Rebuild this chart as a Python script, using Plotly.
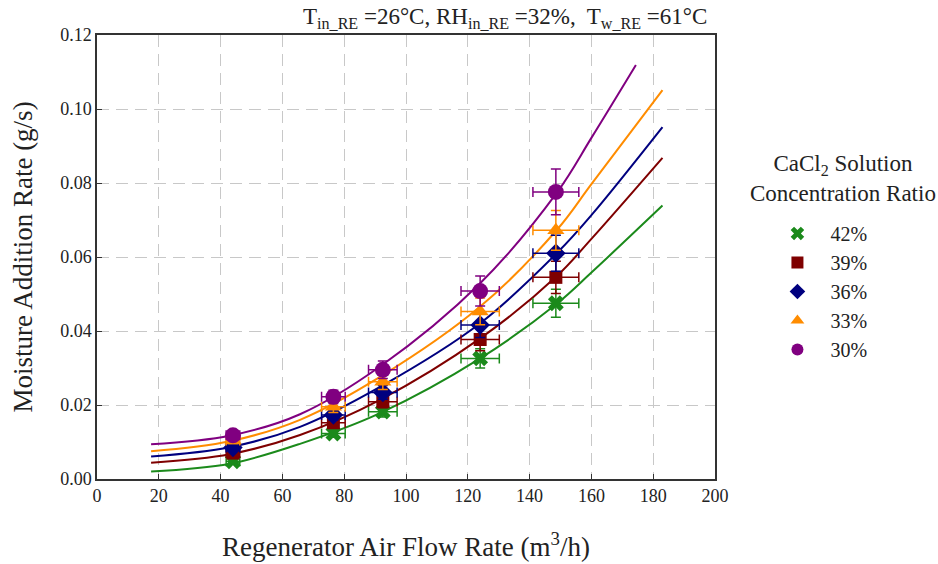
import plotly.graph_objects as go

# ---- data ----
flow_rates = [44, 76.5, 92.5, 124, 148.5]
series_names = ["42%", "39%", "36%", "33%", "30%"]
rate_42 = [0.0048, 0.0123, 0.0182, 0.0326, 0.0475]
rate_39 = [0.0070, 0.0152, 0.0209, 0.0377, 0.0545]
rate_36 = [0.0085, 0.0173, 0.0234, 0.0416, 0.0610]
rate_33 = [0.0104, 0.0195, 0.0263, 0.0453, 0.0672]
rate_30 = [0.0118, 0.0222, 0.0295, 0.0508, 0.0776]

fit_x = [17.5, 43, 65.7, 91.6, 124, 149, 160, 183]
fit_x_30 = [17.5, 43, 65.7, 91.6, 124, 149, 160, 174.4]
fit_42 = [0.0020, 0.0041, 0.0095, 0.0178, 0.0326, 0.0475, 0.0558, 0.0739]
fit_39 = [0.0044, 0.0067, 0.0119, 0.0214, 0.0380, 0.0550, 0.0649, 0.0868]
fit_36 = [0.0061, 0.0086, 0.0141, 0.0249, 0.0421, 0.0612, 0.0713, 0.0951]
fit_33 = [0.0075, 0.0102, 0.0160, 0.0276, 0.0466, 0.0675, 0.0797, 0.1051]
fit_30 = [0.0094, 0.0117, 0.0175, 0.0304, 0.0529, 0.0776, 0.0922, 0.1119]

x_err_pct = 5
y_err_pct = 8

colors = ["#1b8a1b", "#7f0000", "#00007f", "#ff8c00", "#800080"]
symbols = ["x", "square", "diamond", "triangle-up", "circle"]
sizes = [14, 13, 15, 15, 16]

data_sets = [rate_42, rate_39, rate_36, rate_33, rate_30]
fits = [(fit_x, fit_42), (fit_x, fit_39), (fit_x, fit_36), (fit_x, fit_33), (fit_x_30, fit_30)]

FONT = "Liberation Serif, serif"
TXT = "#222222"

fig = go.Figure()

for i in range(5):
    fx, fy = fits[i]
    fig.add_trace(go.Scatter(x=fx, y=fy, mode="lines", line=dict(color=colors[i], width=2, shape="spline"),
                             showlegend=False, hoverinfo="skip"))

for i in range(5):
    fig.add_trace(go.Scatter(
        x=flow_rates, y=data_sets[i], mode="markers", name=series_names[i],
        marker=dict(symbol=symbols[i], size=sizes[i], color=colors[i], line=dict(width=0)),
        error_x=dict(type="percent", value=x_err_pct, color=colors[i], thickness=1.5, width=5),
        error_y=dict(type="percent", value=y_err_pct, color=colors[i], thickness=1.5, width=5),
    ))

axis_common = dict(
    showline=True, linecolor="#333333", linewidth=1.5, mirror=True,
    ticks="inside", ticklen=5, tickcolor="#333333", tickwidth=1,
    showgrid=True, gridcolor="#c8c8c8", griddash="12px,7px", gridwidth=1.2,
    zeroline=False, automargin=False,
    tickfont=dict(family=FONT, size=18, color=TXT),
)

fig.update_xaxes(range=[0, 200], dtick=20, tick0=0,
                 title=dict(text="Regenerator Air Flow Rate (m<sup>3</sup>/h)",
                            font=dict(family=FONT, size=27, color=TXT), standoff=32),
                 **axis_common)
fig.update_yaxes(range=[0, 0.12], dtick=0.02, tick0=0, tickformat=".2f",
                 title=dict(text="Moisture Addition Rate (g/s)",
                            font=dict(family=FONT, size=27, color=TXT), standoff=20),
                 **axis_common)

fig.add_annotation(
    text="T<sub>in_RE</sub> =26°C, RH<sub>in_RE</sub> =32%,  T<sub>w_RE</sub> =61°C",
    xref="paper", yref="paper", x=0.661, y=1.0, yanchor="bottom", xanchor="center", yshift=1,
    showarrow=False, font=dict(family=FONT, size=23, color=TXT))

fig.add_annotation(
    text="CaCl<sub>2</sub> Solution<br>Concentration Ratio",
    xref="paper", yref="paper", x=1.207, y=0.677, xanchor="center", yanchor="middle",
    showarrow=False, align="center", font=dict(family=FONT, size=23, color=TXT))

fig.update_layout(
    width=938, height=564,
    margin=dict(l=97, r=223, t=35, b=85),
    paper_bgcolor="white", plot_bgcolor="white",
    font=dict(family=FONT, size=18, color=TXT),
    legend=dict(x=1.08, y=0.597, xanchor="left", yanchor="top",
                font=dict(family=FONT, size=20, color=TXT), itemwidth=56,
                bgcolor="rgba(0,0,0,0)", itemsizing="constant", tracegroupgap=0),
)

fig.write_html("out.html")
